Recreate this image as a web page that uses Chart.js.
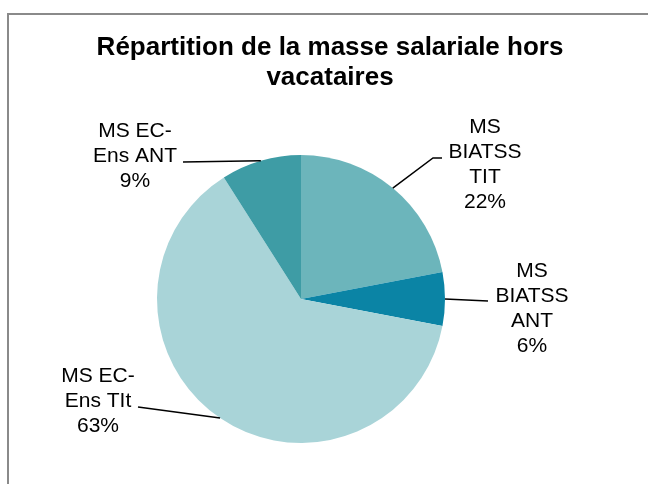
<!DOCTYPE html>
<html>
<head>
<meta charset="utf-8">
<script src="https://cdn.jsdelivr.net/npm/chart.js@4/dist/chart.umd.min.js"></script>
<style>
  html, body { margin: 0; padding: 0; background: #fff; }
  canvas { display: block; }
</style>
</head>
<body>
<canvas id="pieChart" width="648" height="484"></canvas>
<script>
// data
const categories = ['MS BIATSS TIT', 'MS BIATSS ANT', 'MS EC-Ens TIt', 'MS EC-Ens ANT'];
const shares = [22, 6, 63, 9]; // percent
const labelLines = [
    ['MS', 'BIATSS', 'TIT'],
    ['MS', 'BIATSS', 'ANT'],
    ['MS EC-', 'Ens TIt'],
    ['MS EC-', 'Ens ANT'],
];
const titleLines = ['Répartition de la masse salariale hors', 'vacataires'];

// styles
const sliceColors = ['#6cb5bb', '#0b84a5', '#a9d4d8', '#3e9ca5'];
const fontFamily = "'Liberation Sans', Arial, sans-serif";

// where each data label sits (text centre x, first baseline y) and the leader path end
const labelLayout = [
    { x: 485, y: 133, path: [[433, 158], [442, 158]] },
    { x: 532, y: 277, path: [[488, 301]] },
    { x: 98,  y: 382, path: [[138, 407]] },
    { x: 135, y: 137, path: [[183, 162]] },
];
const labelLineHeight = 25;
const pieShiftX = -29; // pie sits left of the title centre

Chart.defaults.font.family = fontFamily;

// grey frame (top and left edge visible)
const framePlugin = {
    id: 'frame',
    beforeDraw(chart) {
        const ctx = chart.ctx;
        ctx.save();
        ctx.fillStyle = '#fff';
        ctx.fillRect(0, 0, chart.width, chart.height);
        ctx.strokeStyle = '#8a8a8a';
        ctx.lineWidth = 2;
        ctx.beginPath();
        ctx.moveTo(8, chart.height + 2);
        ctx.lineTo(8, 14);
        ctx.lineTo(chart.width + 2, 14);
        ctx.stroke();
        ctx.restore();
    }
};

const shiftPlugin = {
    id: 'shift',
    afterLayout(chart) {
        chart.chartArea.left += pieShiftX;
        chart.chartArea.right += pieShiftX;
    }
};

// outside labels with leader lines
const labelPlugin = {
    id: 'outsideLabels',
    afterDatasetsDraw(chart) {
        const ctx = chart.ctx;
        const meta = chart.getDatasetMeta(0);
        ctx.save();
        meta.data.forEach((arc, i) => {
            const p = arc.getProps(['x', 'y', 'startAngle', 'endAngle', 'outerRadius'], true);
            const mid = (p.startAngle + p.endAngle) / 2;
            const ax = p.x + Math.cos(mid) * p.outerRadius;
            const ay = p.y + Math.sin(mid) * p.outerRadius;
            const lay = labelLayout[i];

            ctx.strokeStyle = '#000';
            ctx.lineWidth = 1.5;
            ctx.beginPath();
            ctx.moveTo(ax, ay);
            lay.path.forEach(pt => ctx.lineTo(pt[0], pt[1]));
            ctx.stroke();

            const lines = labelLines[i].concat([shares[i] + '%']);
            ctx.fillStyle = '#000';
            ctx.font = '21px ' + fontFamily;
            ctx.textAlign = 'center';
            ctx.textBaseline = 'alphabetic';
            lines.forEach((t, k) => ctx.fillText(t, lay.x, lay.y + k * labelLineHeight));
        });
        ctx.restore();
    }
};

const data = {
    labels: categories,
    datasets: [{
        data: shares,
        backgroundColor: sliceColors,
        borderWidth: 0,
    }],
};

const options = {
    responsive: false,
    animation: false,
    layout: {
        padding: { left: 12, right: 0, top: 0, bottom: 41 }
    },
    plugins: {
        legend: { display: false },
        tooltip: { enabled: false },
        title: {
            display: true,
            text: titleLines,
            color: '#000',
            font: { size: 26, weight: 'bold', lineHeight: 30 / 26 },
            padding: { top: 33, bottom: 62 },
        },
    },
};

new Chart(document.getElementById('pieChart').getContext('2d'), {
    type: 'pie',
    data: data,
    options: options,
    plugins: [framePlugin, shiftPlugin, labelPlugin],
});
</script>
</body>
</html>
